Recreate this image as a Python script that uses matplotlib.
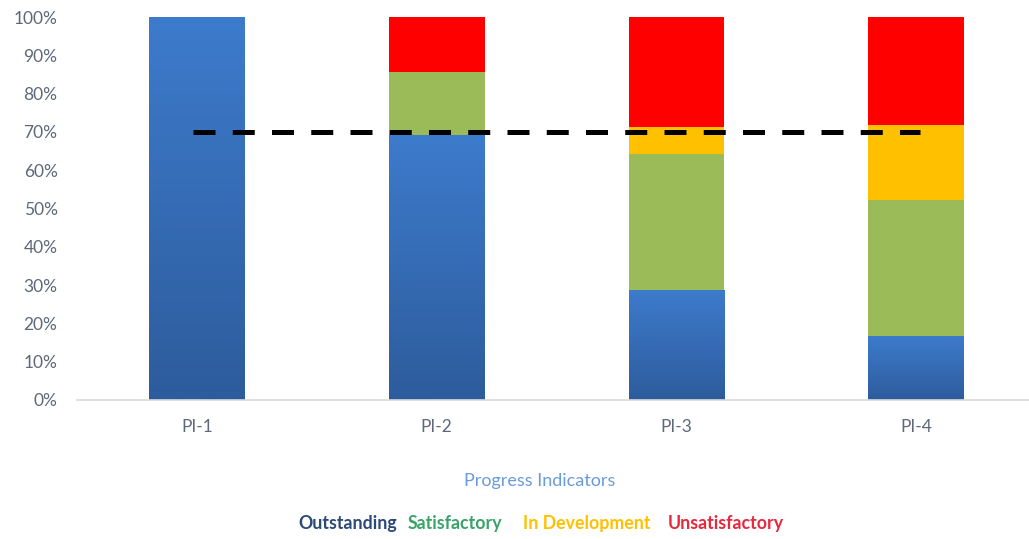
import numpy as np
import matplotlib
matplotlib.use("Agg")
import matplotlib.pyplot as plt
from matplotlib.colors import LinearSegmentedColormap
from matplotlib.ticker import PercentFormatter

plt.rcParams['font.family'] = ['Lato', 'DejaVu Sans']

categories = ['PI-1', 'PI-2', 'PI-3', 'PI-4']
outstanding = [100.0, 69.2, 28.6, 16.7]
satisfactory = [0.0, 16.5, 35.7, 35.5]
in_development = [0.0, 0.0, 7.1, 19.5]
unsatisfactory = [0.0, 14.3, 28.6, 28.3]
target = 70.0

legend_labels = ['Outstanding', 'Satisfactory', 'In Development', 'Unsatisfactory']
legend_colors = ['#2c4a78', '#3aa36a', '#ffc000', '#e8283c']

W, H = 1029, 539
fig = plt.figure(figsize=(W / 100, H / 100), dpi=100)
ax = fig.add_axes([77 / W, (H - 400) / H, (W - 77) / W, (400 - 17) / H])

x = np.arange(len(categories))
width = 0.40

blue_grad = LinearSegmentedColormap.from_list('blue_grad', ['#2d5c9c', '#3d7bcc'])
grad = np.linspace(0, 1, 256).reshape(-1, 1)

# Outstanding segments carry a vertical gradient
for xi, v in zip(x, outstanding):
    if v > 0:
        ax.imshow(grad, cmap=blue_grad, origin='lower', aspect='auto',
                  extent=[xi - width / 2, xi + width / 2, 0, v], zorder=2)

bottom = np.array(outstanding)
ax.bar(x, satisfactory, width, bottom=bottom, color='#9bbb59', zorder=2)
bottom = bottom + np.array(satisfactory)
ax.bar(x, in_development, width, bottom=bottom, color='#ffc000', zorder=2)
bottom = bottom + np.array(in_development)
ax.bar(x, unsatisfactory, width, bottom=bottom, color='#ff0000', zorder=2)

# Target line spanning the categories, slightly past the outer bar centres
pad = 0.017
ax.plot([x[0] - pad, x[-1] + pad], [target, target], color='black', lw=3.6,
        linestyle=(0, (4.4, 3.45)), dash_capstyle='butt', zorder=3)

ax.set_xlim(-0.5, 3.47)
ax.set_ylim(0, 100)
ax.set_yticks(np.arange(0, 101, 10))
ax.yaxis.set_major_formatter(PercentFormatter(decimals=0))
ax.set_xticks(x)
ax.set_xticklabels(categories)
ax.tick_params(axis='both', length=0, labelsize=12.5, colors='#5d6878')
ax.tick_params(axis='y', pad=14)
ax.tick_params(axis='x', pad=14)
for s in ['top', 'right', 'left']:
    ax.spines[s].set_visible(False)
ax.spines['bottom'].set_color('#d9d9d9')
ax.spines['bottom'].set_linewidth(1.2)

fig.text(540 / W, 1 - 481 / H, 'Progress Indicators', ha='center', va='center',
         fontsize=13, color='#6a9bdb')

# Coloured category key along the bottom
starts = [298, 408, 523, 668]
for sx, lab, col in zip(starts, legend_labels, legend_colors):
    fig.text(sx / W, 1 - 524 / H, lab, ha='left', va='center',
             fontsize=12.8, fontweight='bold', color=col)

fig.savefig('out.png', dpi=100, facecolor='white')
